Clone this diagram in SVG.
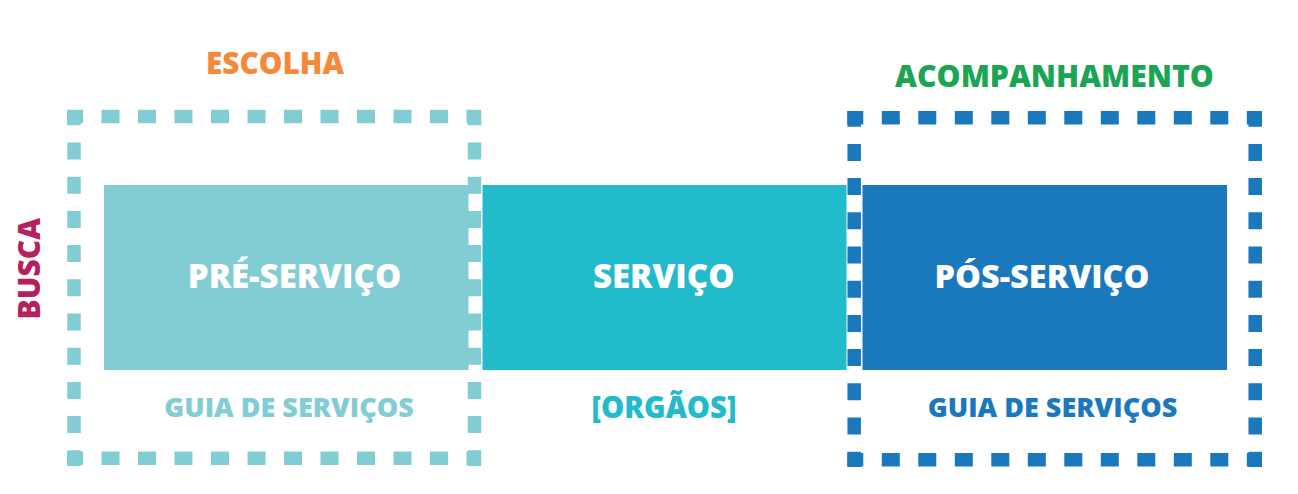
<svg xmlns="http://www.w3.org/2000/svg" width="1298" height="494" viewBox="0 0 1298 494">
<style>
.t{font-family:"Open Sans","Liberation Sans",sans-serif;font-weight:800;text-anchor:middle}
.w{fill:#ffffff;font-size:33px}
.s{font-size:27px}
.h{stroke-width:13.5;fill:none;stroke-dasharray:18 18.5;stroke-dashoffset:2}
.v{stroke-width:13.5;fill:none;stroke-dasharray:17 17.2}
.lt{stroke:#82CDD3}
.dk{stroke:#1A79BC}
</style>
<rect width="1298" height="494" fill="#ffffff"/>
<g id="pre-servico">
<rect x="104" y="185" width="364.5" height="185" fill="#82CDD3"/>
<text class="t w" x="294.5" y="287.5">PRÉ-SERVIÇO</text>
</g>
<g id="servico">
<rect x="482.5" y="185" width="364" height="185" fill="#22BBCB"/>
<text class="t w" x="663.7" y="288">SERVIÇO</text>
</g>
<g id="pos-servico">
<rect x="862.5" y="185" width="364.5" height="185" fill="#1A79BC"/>
<text class="t w" x="1042" y="287.5" style="font-size:32.5px">PÓS-SERVIÇO</text>
</g>
<g id="connectors">
<g id="box-escolha">
<line class="h lt" x1="67" y1="116.5" x2="481" y2="116.5"/>
<line class="h lt" x1="67" y1="458.3" x2="481" y2="458.3"/>
<line class="v lt" x1="74" y1="110" x2="74" y2="466" stroke-dashoffset="1.7"/>
<line class="v lt" x1="474.5" y1="110" x2="474.5" y2="466" stroke-dashoffset="1.7"/>
</g>
<g id="box-acompanhamento">
<line class="h dk" x1="847.3" y1="117.7" x2="1262" y2="117.7"/>
<line class="h dk" x1="847.3" y1="459.8" x2="1262" y2="459.8"/>
<line class="v dk" x1="854.2" y1="111" x2="854.2" y2="467" stroke-dashoffset="1.3"/>
<line class="v dk" x1="1255.2" y1="111" x2="1255.2" y2="467" stroke-dashoffset="1.3"/>
</g>
</g>
<g id="labels">
<text class="t" x="275" y="74" font-size="29.7" fill="#F5893A">ESCOLHA</text>
<text class="t" x="1054.5" y="86.5" font-size="30.2" fill="#1BA552">ACOMPANHAMENTO</text>
<text class="t" transform="translate(40 268.7) rotate(-90)" x="0" y="0" font-size="30" fill="#B5215E">BUSCA</text>
<text class="t s" x="289" y="417" fill="#82CDD3">GUIA DE SERVIÇOS</text>
<text class="t" x="664" y="418" font-size="29.2" fill="#22BBCB">[ORGÃOS]</text>
<text class="t s" x="1052.5" y="416.5" fill="#1A79BC">GUIA DE SERVIÇOS</text>
</g>
</svg>
